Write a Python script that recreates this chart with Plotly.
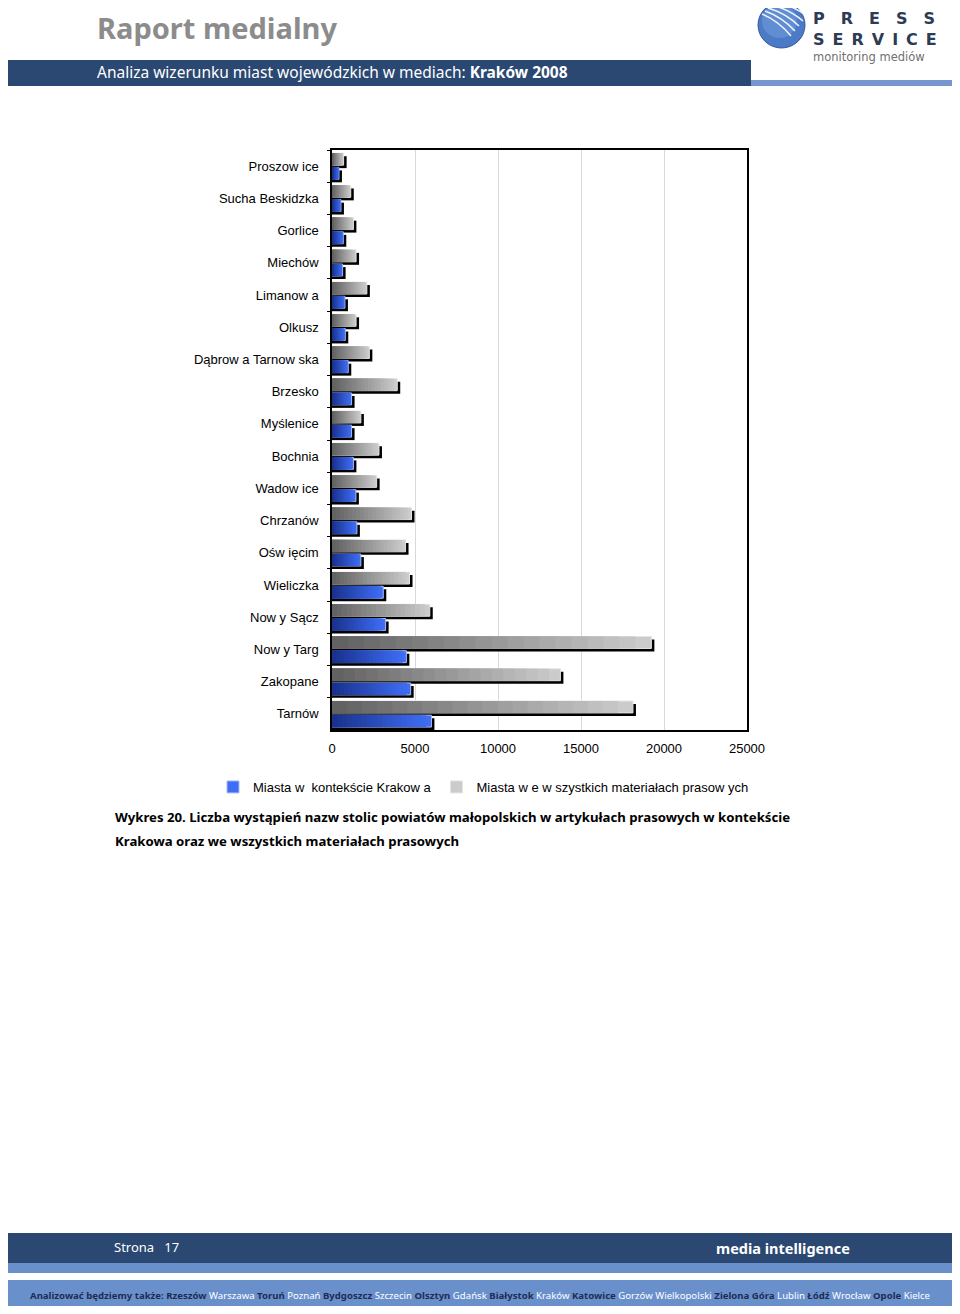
import plotly.graph_objects as go

# ---------------- data ----------------
cities = ["Proszow ice", "Sucha Beskidzka", "Gorlice", "Miechów", "Limanow a", "Olkusz",
          "Dąbrow a Tarnow ska", "Brzesko", "Myślenice", "Bochnia", "Wadow ice", "Chrzanów",
          "Ośw ięcim", "Wieliczka", "Now y Sącz", "Now y Targ", "Zakopane", "Tarnów"]
krakow_ctx = [420, 540, 680, 640, 780, 800, 980, 1180, 1180, 1290, 1440, 1500,
              1740, 3090, 3230, 4480, 4740, 5990]
all_media = [700, 1130, 1290, 1450, 2100, 1450, 2250, 3930, 1740, 2830, 2690, 4790,
             4430, 4670, 5890, 19240, 13760, 18130]
series_names = ["Miasta w  kontekście Krakow a", "Miasta w e w szystkich materiałach prasow ych"]
x_ticks = [0, 5000, 10000, 15000, 20000, 25000]

# page geometry (the page body adds an 8px margin around the figure)
OFF = 8
W, H = 960 - 2 * OFF, 1314 - 2 * OFF
def px(x):
    return (x - OFF) / W
def py(y):
    return 1 - (y - OFF) / H

def lerp_color(c1, c2, t):
    a = [int(c1[i:i + 2], 16) for i in (1, 3, 5)]
    b = [int(c2[i:i + 2], 16) for i in (1, 3, 5)]
    return "#%02x%02x%02x" % tuple(round(a[i] + (b[i] - a[i]) * t) for i in range(3))

fig = go.Figure()

BW = 0.37
GRAY_OFF, BLUE_OFF = -0.40, 0.04
SH_DY = 0.093          # shadow shift (category units)
SH_DX = 180            # shadow shift (data units)
STEPS = 20

# shadows
for vals, off in ((all_media, GRAY_OFF), (krakow_ctx, BLUE_OFF)):
    fig.add_trace(go.Bar(y=cities, x=[v + SH_DX for v in vals], orientation="h",
                         offset=off + SH_DY, width=BW, marker=dict(color="#000000", line=dict(width=0)),
                         showlegend=False, hoverinfo="skip"))

def gradient_series(vals, off, dark, light, border, name, rank):
    for k in range(STEPS):
        frac = 1 - k / STEPS
        col = lerp_color(dark, light, frac)
        fig.add_trace(go.Bar(
            y=cities, x=[v * frac for v in vals], orientation="h",
            offset=off, width=BW,
            marker=dict(color=col, line=dict(width=1 if k == 0 else 0, color=border)),
            name=name, showlegend=(k == 0), legendrank=rank,
            hoverinfo="x+y" if k == 0 else "skip"))

gradient_series(all_media, GRAY_OFF, "#5c5c5c", "#cbcbcb", "#e4e4e4", series_names[1], 2)
gradient_series(krakow_ctx, BLUE_OFF, "#172f88", "#3f6ef6", "#a9bdf2", series_names[0], 1)

fig.update_layout(
    width=W, height=H,
    margin=dict(l=0, r=0, t=0, b=0, pad=0, autoexpand=False),
    paper_bgcolor="white", plot_bgcolor="white",
    barmode="overlay",
    font=dict(family="Liberation Sans, Arial, sans-serif", size=13, color="#000000"),
    xaxis=dict(domain=[px(332), px(747)], range=[0, 25000], tickvals=x_ticks,
               ticktext=[str(v) for v in x_ticks], automargin=False,
               showgrid=True, gridcolor="#d9d9d9", gridwidth=1, zeroline=False,
               showline=True, mirror=True, linecolor="#000000", linewidth=1.5,
               ticks="", ticklabelstandoff=6, tickfont=dict(size=13)),
    yaxis=dict(domain=[py(730), py(150)], range=[17.5, -0.5], type="category", automargin=False,
               showline=True, mirror=True, linecolor="#000000", linewidth=1.5,
               ticks="outside", ticklen=3, tickcolor="#000000", tickson="boundaries",
               ticklabelstandoff=9, showgrid=False, tickfont=dict(size=13)),
    legend=dict(orientation="h", x=px(213), y=py(787), xanchor="left", yanchor="middle",
                font=dict(size=13), bgcolor="rgba(0,0,0,0)", traceorder="normal",
                itemwidth=30, tracegroupgap=0),
    showlegend=True,
)

shapes = []
annotations = []

def ann(text, x, y, size, color, family="Noto Sans", weight="normal", xanchor="left", yanchor="middle"):
    annotations.append(dict(text=text, x=px(x), y=py(y), xref="paper", yref="paper",
                            xanchor=xanchor, yanchor=yanchor, showarrow=False, borderpad=0,
                            font=dict(family=family, size=size, color=color, weight=weight)))

def rect(x0, y0, x1, y1, color):
    shapes.append(dict(type="rect", xref="paper", yref="paper", x0=px(x0), x1=px(x1),
                       y0=py(y1), y1=py(y0), fillcolor=color, line=dict(width=0), layer="below"))

# header
rect(0, 60, 751, 86, "#2a4871")
rect(751, 80, 960, 86, "#7596cf")
ann("Raport medialny", 96, 27, 29, "#8c8c8c", weight="bold")
ann("Analiza wizerunku miast wojewódzkich w mediach: <b>Kraków 2008</b>", 96, 72, 15.5, "#ffffff")

# logo
shapes.append(dict(type="circle", xref="paper", yref="paper", x0=px(758), x1=px(805), y0=py(48), y1=py(2),
                   fillcolor="#4b7bc6", line=dict(width=1, color="#34589a")))
shapes.append(dict(type="circle", xref="paper", yref="paper", x0=px(762), x1=px(797), y0=py(38), y1=py(4),
                   fillcolor="rgba(125,165,225,0.45)", line=dict(width=0)))
for i in range(5):
    x0, y0 = 762 + 3 * i, 14 - 3 * i
    x1, y1 = 791 + 4 * i, 36 - 5 * i
    cx, cy = (x0 + x1) / 2 + 2, (y0 + y1) / 2 - 4
    path = "M %f %f Q %f %f %f %f" % (px(x0), py(y0), px(cx), py(cy), px(x1), py(y1))
    shapes.append(dict(type="path", xref="paper", yref="paper", path=path,
                       line=dict(color="rgba(255,255,255,0.9)", width=1.6)))
ann("P\u2003R\u2003E\u2003S\u2003S", 812, 29, 16, "#2d3b55", family="DejaVu Sans", weight="bold",
    yanchor="bottom")
ann("S\u2002E\u2002R\u2002V\u2002I\u2002C\u2002E", 812, 29, 16, "#2d3b55", family="DejaVu Sans",
    weight="bold", yanchor="top")
ann("monitoring mediów", 812, 49, 11.5, "#707070", family="DejaVu Sans", yanchor="top")

# caption
ann("Wykres 20. Liczba wystąpień nazw stolic powiatów małopolskich w artykułach prasowych w kontekście",
    114, 817, 13.2, "#000000", weight="bold")
ann("Krakowa oraz we wszystkich materiałach prasowych", 114, 841, 13.2, "#000000", weight="bold")

# footer
rect(0, 1233, 960, 1263, "#2a4871")
rect(0, 1263, 960, 1273, "#6a90cc")
rect(0, 1280, 960, 1311, "#6a90cc")
ann("Strona\u00a0\u00a0\u00a017", 113, 1247, 13, "#ffffff")
ann("<b>media intelligence</b>", 715, 1248, 14.5, "#ffffff")
footer_words = [("Analizować będziemy także:", True), ("Rzeszów", True), ("Warszawa", False), ("Toruń", True),
                ("Poznań", False), ("Bydgoszcz", True), ("Szczecin", False), ("Olsztyn", True),
                ("Gdańsk", False), ("Białystok", True), ("Kraków", False), ("Katowice", True),
                ("Gorzów Wielkopolski", False), ("Zielona Góra", True), ("Lublin", False), ("Łódź", True),
                ("Wrocław", False), ("Opole", True), ("Kielce", False)]
parts = []
for w, b in footer_words:
    if b:
        parts.append("<b><span style='color:#1d2d52'>%s</span></b>" % w)
    else:
        parts.append("<span style='color:#ffffff'>%s</span>" % w)
ann(" ".join(parts), 480, 1295, 9.6, "#ffffff", xanchor="center")

fig.update_layout(shapes=shapes, annotations=annotations)
fig.write_html("out.html")
